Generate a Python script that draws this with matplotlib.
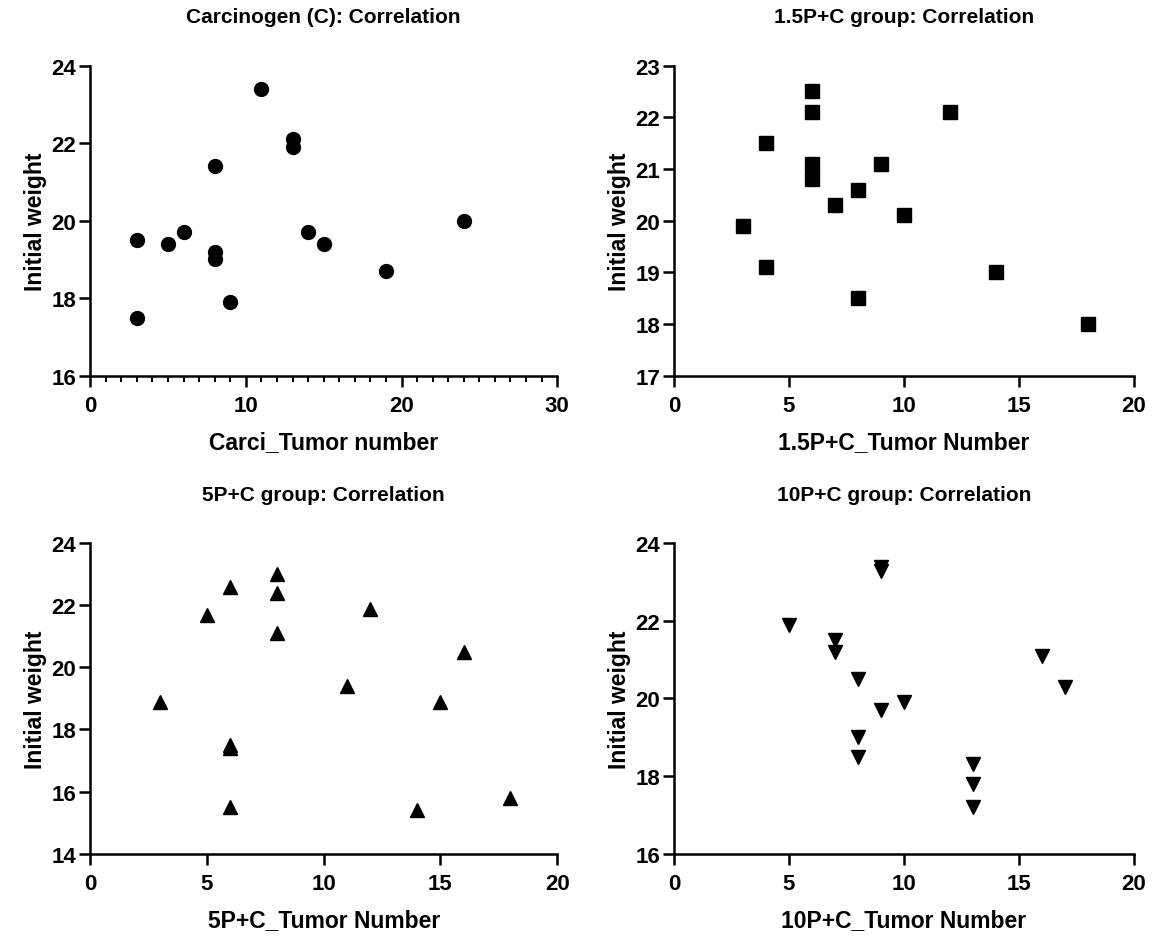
import matplotlib
matplotlib.use("Agg")
import matplotlib.pyplot as plt
from matplotlib.ticker import MultipleLocator

plt.rcParams['font.family'] = ['Liberation Sans', 'DejaVu Sans']
plt.rcParams['font.weight'] = 'bold'

# Carcinogen (C) group
c_tumor = [3, 3, 5, 6, 8, 8, 8, 9, 11, 13, 13, 14, 15, 19, 24]
c_weight = [19.5, 17.5, 19.4, 19.7, 21.4, 19.2, 19.0, 17.9, 23.4, 22.1, 21.9, 19.7, 19.4, 18.7, 20.0]

# 1.5P+C group
p15_tumor = [3, 4, 4, 6, 6, 6, 6, 7, 8, 8, 9, 10, 12, 14, 18]
p15_weight = [19.9, 21.5, 19.1, 22.5, 22.1, 21.1, 20.8, 20.3, 20.6, 18.5, 21.1, 20.1, 22.1, 19.0, 18.0]

# 5P+C group
p5_tumor = [3, 5, 6, 6, 6, 6, 8, 8, 8, 11, 12, 14, 15, 16, 18]
p5_weight = [18.9, 21.7, 22.6, 17.5, 17.4, 15.5, 23.0, 22.4, 21.1, 19.4, 21.9, 15.4, 18.9, 20.5, 15.8]

# 10P+C group
p10_tumor = [5, 7, 7, 8, 8, 8, 9, 9, 9, 10, 13, 13, 13, 16, 17]
p10_weight = [21.9, 21.5, 21.2, 20.5, 19.0, 18.5, 23.4, 23.3, 19.7, 19.9, 18.3, 17.8, 17.2, 21.1, 20.3]

panels = [
    # x, y, marker, size, title, xlabel, xlim, xstep, ylim, ystep, rect
    (c_tumor, c_weight, 'o', 10, 'Carcinogen (C): Correlation', 'Carci_Tumor number',
     (0, 30), 10, (16, 24), 2, [0.078, 0.598, 0.404, 0.331]),
    (p15_tumor, p15_weight, 's', 10, '1.5P+C group: Correlation', '1.5P+C_Tumor Number',
     (0, 20), 5, (17, 23), 1, [0.583, 0.598, 0.398, 0.331]),
    (p5_tumor, p5_weight, '^', 10.5, '5P+C group: Correlation', '5P+C_Tumor Number',
     (0, 20), 5, (14, 24), 2, [0.078, 0.088, 0.404, 0.331]),
    (p10_tumor, p10_weight, 'v', 10.5, '10P+C group: Correlation', '10P+C_Tumor Number',
     (0, 20), 5, (16, 24), 2, [0.583, 0.088, 0.398, 0.331]),
]

fig = plt.figure(figsize=(11.56, 9.37), dpi=100)

for i, (x, y, mk, ms, title, xlabel, xlim, xstep, ylim, ystep, rect) in enumerate(panels):
    ax = fig.add_axes(rect)
    ax.plot(x, y, linestyle='none', marker=mk, markersize=ms, color='black', clip_on=False)
    ax.set_xlim(*xlim)
    ax.set_ylim(*ylim)
    ax.xaxis.set_major_locator(MultipleLocator(xstep))
    ax.yaxis.set_major_locator(MultipleLocator(ystep))
    if i == 0:
        ax.xaxis.set_minor_locator(MultipleLocator(1))
    for side in ('top', 'right'):
        ax.spines[side].set_visible(False)
    for side in ('left', 'bottom'):
        ax.spines[side].set_linewidth(1.8)
    ax.tick_params(which='major', direction='out', length=8, width=1.8, labelsize=16)
    ax.tick_params(axis='x', which='major', pad=6)
    ax.tick_params(axis='y', which='major', pad=2)
    ax.tick_params(which='minor', direction='out', length=4, width=1.5)
    for lbl in ax.get_xticklabels() + ax.get_yticklabels():
        lbl.set_fontweight('bold')
    ax.set_title(title, fontsize=15, fontweight='bold', pad=31)
    ax.set_xlabel(xlabel, fontsize=16.5, fontweight='bold', labelpad=10)
    ax.set_ylabel('Initial weight', fontsize=16.5, fontweight='bold', labelpad=3)

fig.savefig('out.png', dpi=100)
